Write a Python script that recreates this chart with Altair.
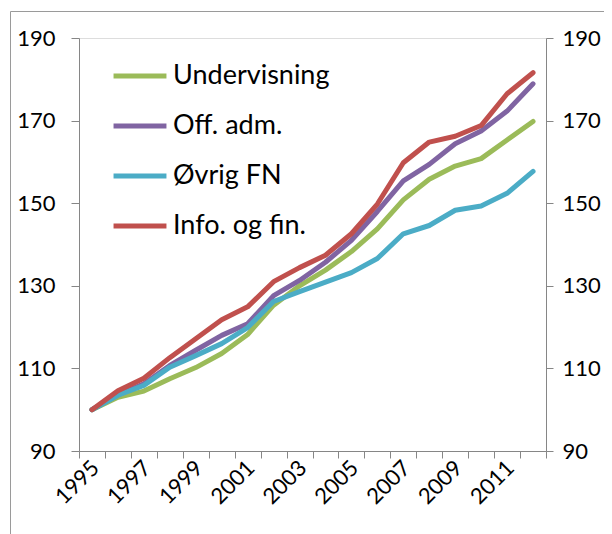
import altair as alt
import pandas as pd

years = list(range(1995, 2013))
series_names = ["Undervisning", "Off. adm.", "Øvrig FN", "Info. og fin."]
undervisning = [100, 103.0, 104.5, 107.5, 110.2, 113.6, 118.2, 125.3, 130.0, 133.8,
                138.3, 143.8, 150.8, 155.8, 159.0, 160.8, 165.3, 169.8]
off_adm = [100, 103.6, 106.3, 110.7, 114.4, 118.0, 120.8, 127.6, 131.3, 135.7,
           141.0, 148.0, 155.4, 159.4, 164.4, 167.5, 172.3, 178.9]
ovrig_fn = [100, 103.5, 105.9, 110.3, 113.1, 116.0, 119.9, 126.2, 128.6, 130.9,
            133.2, 136.6, 142.6, 144.6, 148.3, 149.3, 152.4, 157.7]
info_fin = [100, 104.6, 107.6, 112.6, 117.2, 121.8, 124.9, 131.0, 134.4, 137.4,
            142.6, 149.8, 159.8, 164.8, 166.2, 168.8, 176.5, 181.6]
colors = ["#9BBB59", "#8064A2", "#4BACC6", "#C0504D"]
y_ticks = [90, 110, 130, 150, 170, 190]

rows = []
for name, vals in zip(series_names, [undervisning, off_adm, ovrig_fn, info_fin]):
    for yr, v in zip(years, vals):
        rows.append({"year": yr, "value": v, "series": name})
df = pd.DataFrame(rows)

FONT = "Lato"
AXIS_COLOR = "#868686"

# category boundaries (tick marks sit between the years, as in a category axis)
x_bounds = [y - 0.5 for y in years] + [years[-1] + 0.5]
x_scale = alt.Scale(domain=[x_bounds[0], x_bounds[-1]], nice=False, zero=False)

x_enc = alt.X(
    "year:Q",
    scale=x_scale,
    axis=alt.Axis(
        title=None,
        values=x_bounds,
        grid=False,
        domainColor=AXIS_COLOR,
        tickColor=AXIS_COLOR,
        tickSize=7,
        labelExpr="(datum.value + 0.5) % 2 == 1 && datum.value < 2012 ? '' + (datum.value + 0.5) : ''",
        labelOffset=16,
        labelAngle=-45,
        labelAlign="right",
        labelBaseline="middle",
        labelPadding=6,
        labelFont=FONT,
        labelFontSize=22,
        labelColor="black",
        labelOverlap=False,
        labelBound=False,
        labelFlush=False,
    ),
)

y_scale = alt.Scale(domain=[90, 190], nice=False, zero=False)

lines = alt.Chart(df).mark_line(strokeWidth=5, strokeCap="round", strokeJoin="round").encode(
    x=x_enc,
    y=alt.Y("value:Q", scale=y_scale, axis=alt.Axis(
        title=None, values=y_ticks, grid=False, domainColor=AXIS_COLOR, tickColor=AXIS_COLOR,
        tickSize=8, labelPadding=16, labelFont=FONT, labelFontSize=22, labelColor="black",
        orient="left")),
    color=alt.Color("series:N", scale=alt.Scale(domain=series_names, range=colors),
                    legend=alt.Legend(orient="none", legendX=32, legendY=9, title=None,
                                      symbolType="stroke", symbolSize=2800, symbolStrokeWidth=5,
                                      labelFont=FONT, labelFontSize=27, labelColor="black",
                                      labelOffset=4, rowPadding=8, padding=0)),
)

right = alt.Chart(df).mark_point(opacity=0).encode(
    y=alt.Y("value:Q", scale=y_scale, axis=alt.Axis(
        title=None, values=y_ticks, grid=False, domainColor=AXIS_COLOR, tickColor=AXIS_COLOR,
        tickSize=7, labelPadding=9, labelFont=FONT, labelFontSize=22, labelColor="black",
        orient="right")),
)

frame_left = alt.Chart(pd.DataFrame({"a": [0]})).mark_rule(
    stroke="#9a9a9a", strokeWidth=1).encode(
    x=alt.value(-68.5), y=alt.value(-26.5), y2=alt.value(800))
frame_top = alt.Chart(pd.DataFrame({"a": [0]})).mark_rule(
    stroke="#9a9a9a", strokeWidth=1).encode(
    x=alt.value(-68.5), x2=alt.value(600), y=alt.value(-26.5))

chart = alt.layer(lines, right, frame_left, frame_top).resolve_scale(y="independent").properties(
    width=467, height=413,
    autosize=alt.AutoSizeParams(type="none"),
    padding={"left": 71, "top": 30, "right": 58, "bottom": 84},
).configure_view(stroke=None).configure(font=FONT)

chart.save("out.html", embed_options={"renderer": "svg", "actions": False})
